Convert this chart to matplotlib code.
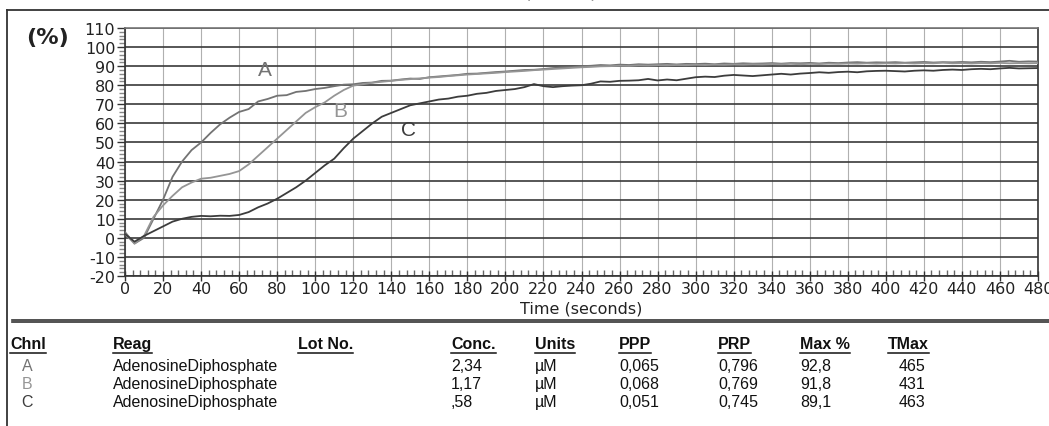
import numpy as np
import matplotlib
matplotlib.use("Agg")
import matplotlib.pyplot as plt
from matplotlib.lines import Line2D
from matplotlib.ticker import MultipleLocator

plt.rcParams["axes.unicode_minus"] = False

W, H = 1049, 427

# sample times (s) and aggregation curves (%)
t = np.arange(0, 481, 5)
curve_a = [3, -3, 0, 10, 20, 32, 40, 46, 50, 55,
           59.5, 63, 66, 67.5, 71.5, 72.8, 74.5, 74.8, 76.5, 77,
           78, 78.6, 79.5, 80.3, 80.5, 81.2, 81.4, 82.3, 82.4, 83,
           83.5, 83.3, 84.2, 84.6, 85, 85.4, 86, 86.1, 86.5, 86.9,
           87.2, 87.6, 88, 88.1, 88.5, 89, 89.3, 89.5, 90, 90.2,
           90.6, 90.4, 90.8, 90.6, 91, 90.8, 91, 91.2, 90.9, 91.2,
           91.1, 91.3, 91, 91.4, 91.2, 91.5, 91.3, 91.4, 91.6, 91.3,
           91.6, 91.5, 91.7, 91.4, 91.8, 91.6, 91.9, 92.1, 91.8, 92,
           91.9, 92.1, 91.8, 92, 92.2, 91.9, 92.1, 92, 92.2, 92,
           92.3, 92.1, 92.4, 92.8, 92.3, 92.5, 92.4]
curve_b = [2, -3, 1, 11, 17, 22, 26.5, 29, 31, 31.5,
           32.5, 33.5, 35, 38.5, 43, 47.5, 52, 56.5, 61, 65.5,
           68.5, 71, 74.5, 77.5, 79.8, 80.5, 81.3, 81.8, 82.3, 82.8,
           83.2, 83.6, 84, 84.3, 84.8, 85.2, 85.6, 85.9, 86.2, 86.5,
           86.9, 87.2, 87.5, 87.9, 88.2, 88.5, 88.8, 89.1, 89.4, 89.6,
           89.9, 90, 90.2, 90.1, 90.4, 90.3, 90.5, 90.4, 90.6, 90.5,
           90.7, 90.6, 90.8, 90.7, 90.9, 90.8, 91, 90.9, 91.1, 91,
           91.2, 91, 91.2, 91.1, 91.3, 91.2, 91.4, 91.3, 91.5, 91.3,
           91.5, 91.4, 91.6, 91.4, 91.6, 91.5, 91.8, 91.5, 91.6, 91.4,
           91.6, 91.5, 91.7, 91.5, 91.6, 91.5, 91.6]
curve_c = [2, -2, 1, 3.5, 6, 8.5, 10, 11, 11.5, 11.3,
           11.6, 11.5, 12, 13.5, 16, 18, 20.5, 23.5, 26.5, 30,
           34, 38, 41.5, 47, 52, 56, 60, 63.5, 65.5, 67.5,
           69.5, 70.5, 71.5, 72.5, 73, 74, 74.5, 75.5, 76, 77,
           77.5, 78, 79, 80.6, 79.5, 79, 79.5, 79.8, 80, 80.8,
           82, 81.8, 82.3, 82.4, 82.6, 83.3, 82.5, 83, 82.6, 83.4,
           84.2, 84.5, 84.3, 85, 85.4, 85.1, 84.8, 85.2, 85.6, 86,
           85.6, 86.1, 86.4, 86.8, 86.5, 86.9, 87.1, 86.8, 87.3, 87.5,
           87.6, 87.4, 87.2, 87.6, 87.8, 87.6, 88, 88.2, 88, 88.4,
           88.6, 88.4, 88.8, 89.1, 88.8, 88.9, 89]

# results table
channels = ["A", "B", "C"]
reagents = ["AdenosineDiphosphate"] * 3
conc = ["2,34", "1,17", ",58"]
units = ["\u00b5M", "\u00b5M", "\u00b5M"]
ppp = ["0,065", "0,068", "0,051"]
prp = ["0,796", "0,769", "0,745"]
max_pct = ["92,8", "91,8", "89,1"]
tmax = ["465", "431", "463"]
headers = ["Chnl", "Reag", "Lot No.", "Conc.", "Units", "PPP", "PRP", "Max %", "TMax"]

colors = ["#737373", "#959595", "#3c3c3c"]


def fx(px):
    return px / W


def fy(py):
    return 1 - py / H


fig = plt.figure(figsize=(W / 100, H / 100), dpi=100)
ax = fig.add_axes([fx(125), fy(277), (1038 - 125) / W, (277 - 29) / H])

for vals, c in zip([curve_a, curve_b, curve_c], colors):
    ax.plot(t, vals, color=c, lw=1.3, zorder=3)

# curve labels
lab = dict(fontsize=15, family="Liberation Sans", ha="center", va="center")
ax.text(73.6, 88.5, "A", color=colors[0], **lab)
ax.text(113, 66.5, "B", color=colors[1], **lab)
ax.text(149, 57, "C", color=colors[2], **lab)

ax.set_xlim(0, 480)
ax.set_ylim(-20, 110)
ax.xaxis.set_major_locator(MultipleLocator(20))
ax.xaxis.set_minor_locator(MultipleLocator(4))
ax.yaxis.set_major_locator(MultipleLocator(10))
ax.yaxis.set_minor_locator(MultipleLocator(2))
ax.grid(axis="x", which="major", color="#b0b0b0", lw=0.8)
ax.grid(axis="y", which="major", color="#3a3a3a", lw=1.2)
ax.set_axisbelow(True)
for s in ax.spines.values():
    s.set_color("#333333")
    s.set_linewidth(1.2)
ax.spines["top"].set_color("#777777")
ax.tick_params(axis="y", which="major", direction="out", length=6, width=1,
               color="#333333", labelsize=11.5, labelcolor="#222222", pad=1)
ax.tick_params(axis="y", which="minor", direction="out", length=4, width=1,
               color="#888888")
ax.tick_params(axis="x", which="major", direction="inout", length=7, width=1,
               color="#333333", labelsize=11.5, labelcolor="#222222", pad=0)
ax.tick_params(axis="x", which="minor", direction="in", length=4, width=1,
               color="#666666")
ax.set_xlabel("Time (seconds)", fontsize=11.5, color="#222222", labelpad=3)

fig.text(fx(47), fy(38), "(%)", fontsize=16, fontweight="bold",
         ha="center", va="center", color="#222222")

# bits of the cut-off title above the frame
fig.text(fx(527), 1.005, "(", fontsize=14, ha="center", va="baseline", color="#333333")
fig.text(fx(593), 1.005, ")", fontsize=14, ha="center", va="baseline", color="#333333")

# report frame
fig.add_artist(Line2D([fx(7), fx(7)], [fy(11), 0], color="#333333", lw=1.3))
fig.add_artist(Line2D([fx(7), 1], [fy(11), fy(11)], color="#333333", lw=1.3))
fig.add_artist(Line2D([fx(12), 1], [fy(320.5), fy(320.5)], color="#333333", lw=1.2))
fig.add_artist(Line2D([fx(12), 1], [fy(322.5), fy(322.5)], color="#333333", lw=1.2))

# table
col_x = [10, 113, 298, 451, 535, 619, 718, 800, 888]
tfont = dict(family=["Liberation Sans", "DejaVu Sans"], fontsize=11.5)
head_txt = []
for hx, h in zip(col_x, headers):
    head_txt.append(fig.text(fx(hx), fy(345), h, ha="left", va="center",
                             fontweight="bold", color="#111111", **tfont))

row_y = [367, 385, 403]
for i in range(3):
    y = fy(row_y[i])
    fig.text(fx(27), y, channels[i], ha="center", va="center", color=colors[i],
             **tfont)
    fig.text(fx(113), y, reagents[i], ha="left", va="center", color="#111111", **tfont)
    fig.text(fx(451), y, conc[i], ha="left", va="center", color="#111111", **tfont)
    fig.text(fx(535), y, units[i], ha="left", va="center", color="#111111", **tfont)
    fig.text(fx(619), y, ppp[i], ha="left", va="center", color="#111111", **tfont)
    fig.text(fx(718), y, prp[i], ha="left", va="center", color="#111111", **tfont)
    fig.text(fx(800), y, max_pct[i], ha="left", va="center", color="#111111", **tfont)
    fig.text(fx(925), y, tmax[i], ha="right", va="center", color="#111111", **tfont)

# underline header words
fig.canvas.draw()
r = fig.canvas.get_renderer()
for ht in head_txt:
    bb = ht.get_window_extent(r)
    yy = (bb.y0 - 1) / H
    fig.add_artist(Line2D([bb.x0 / W, bb.x1 / W], [yy, yy], color="#111111", lw=1.1))

fig.savefig("out.png", dpi=100)
